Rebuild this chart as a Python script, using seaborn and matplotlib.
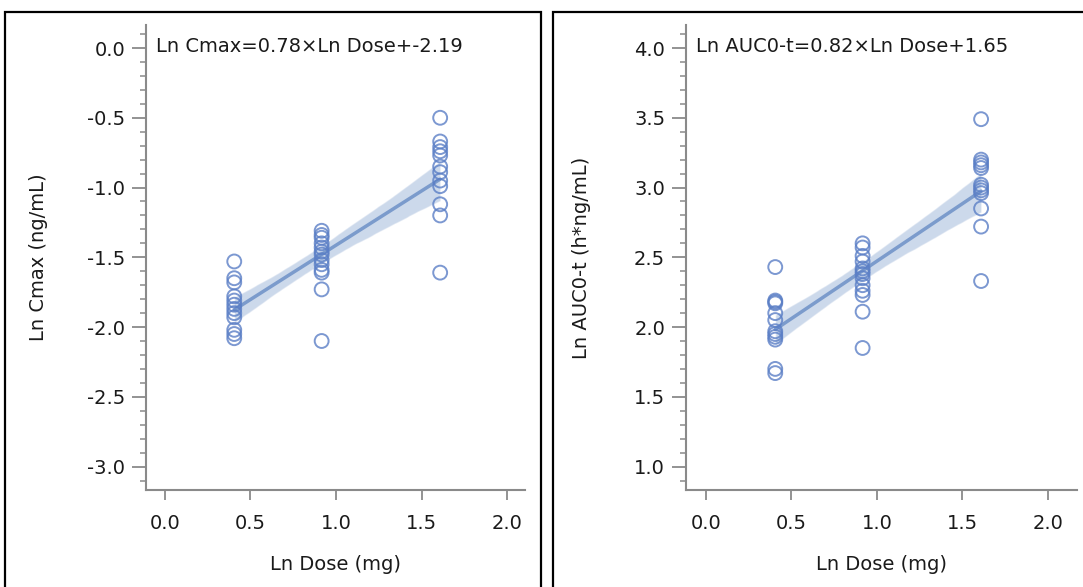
import numpy as np
import pandas as pd
import seaborn as sns
import matplotlib
matplotlib.use("Agg")
import matplotlib.pyplot as plt
from matplotlib.patches import Rectangle
from matplotlib.ticker import AutoMinorLocator
from matplotlib.path import Path

# ---------------- data ----------------
dose_levels = [0.405, 0.916, 1.609]   # ln(1.5), ln(2.5), ln(5) mg

cmax_low = [-1.53, -1.65, -1.68, -1.78, -1.81, -1.84, -1.87, -1.90, -1.93, -2.02, -2.05, -2.08]
cmax_mid = [-1.31, -1.34, -1.36, -1.40, -1.43, -1.46, -1.48, -1.52, -1.55, -1.59, -1.61, -1.73, -2.10]
cmax_high = [-0.50, -0.67, -0.71, -0.74, -0.77, -0.85, -0.89, -0.95, -0.99, -1.12, -1.20, -1.61]

auc_low = [2.43, 2.19, 2.18, 2.17, 2.10, 2.05, 1.97, 1.95, 1.93, 1.91, 1.70, 1.67]
auc_mid = [2.60, 2.57, 2.51, 2.47, 2.42, 2.40, 2.38, 2.35, 2.30, 2.26, 2.23, 2.11, 1.85]
auc_high = [3.49, 3.20, 3.18, 3.16, 3.14, 3.02, 3.00, 2.98, 2.96, 2.85, 2.72, 2.33]

eq_cmax = "Ln Cmax=0.78×Ln Dose+-2.19"
eq_auc = "Ln AUC0-t=0.82×Ln Dose+1.65"

cmax_ticks = [0.0, -0.5, -1.0, -1.5, -2.0, -2.5, -3.0]
auc_ticks = [4.0, 3.5, 3.0, 2.5, 2.0, 1.5, 1.0]
x_ticks = [0.0, 0.5, 1.0, 1.5, 2.0]


def build(low, mid, high):
    x = [dose_levels[0]] * len(low) + [dose_levels[1]] * len(mid) + [dose_levels[2]] * len(high)
    y = list(low) + list(mid) + list(high)
    return pd.DataFrame({"x": x, "y": y})


df_cmax = build(cmax_low, cmax_mid, cmax_high)
df_auc = build(auc_low, auc_mid, auc_high)

# ---------------- style ----------------
sns.set_theme(style="white")
plt.rcParams["font.family"] = ["DejaVu Sans"]

W, H = 1083, 587
fig = plt.figure(figsize=(W / 100, H / 100), dpi=100)


def ax_at(x0, x1, y0, y1):
    return fig.add_axes([x0 / W, 1 - y1 / H, (x1 - x0) / W, (y1 - y0) / H])


# elliptical open marker (slightly wider than tall, like the reference)
t = np.linspace(0, 2 * np.pi, 60)
ell = Path(np.column_stack([0.5 * np.cos(t), 0.4 * np.sin(t)]))

PT_COLOR = "#5b7fc6"
LINE_COLOR = "#7b9bcc"
SPINE = "#8a8a8a"
TXT = "#1a1a1a"
FS = 14


def panel(ax, df, ylab, eq, yticks, xlim, ylim):
    sns.regplot(data=df, x="x", y="y", ax=ax, ci=95, n_boot=1000, seed=1,
                truncate=True,
                scatter_kws=dict(marker=ell, s=100, facecolors="none",
                                 edgecolors=PT_COLOR, linewidths=1.4, zorder=3),
                line_kws=dict(color=LINE_COLOR, lw=2.5, zorder=2),
                color=LINE_COLOR)
    for coll in ax.collections:
        if coll.__class__.__name__ in ("PolyCollection", "FillBetweenPolyCollection"):
            coll.set_alpha(0.38)
            coll.set_zorder(1)
    ax.set_xlim(*xlim)
    ax.set_ylim(*ylim)
    ax.set_xticks(x_ticks)
    ax.set_xticklabels([f"{v:.1f}" for v in x_ticks])
    ax.set_yticks(yticks)
    ax.set_yticklabels([f"{v:.1f}" for v in yticks])
    ax.yaxis.set_minor_locator(AutoMinorLocator(5))
    for side in ("top", "right"):
        ax.spines[side].set_visible(False)
    for side in ("left", "bottom"):
        ax.spines[side].set_color(SPINE)
        ax.spines[side].set_linewidth(1.5)
    ax.tick_params(axis="y", which="major", direction="out", length=10, width=1.3,
                   color=SPINE, labelsize=FS, labelcolor=TXT, pad=5, left=True)
    ax.tick_params(axis="y", which="minor", direction="out", length=4.5, width=1.1,
                   color=SPINE, left=True)
    ax.tick_params(axis="x", which="major", direction="out", length=7, width=1.3,
                   color=SPINE, labelsize=FS, labelcolor=TXT, pad=10, bottom=True)
    ax.set_xlabel("Ln Dose (mg)", fontsize=FS, color=TXT)
    ax.set_ylabel(ylab, fontsize=FS, color=TXT)
    ax.xaxis.set_label_coords(0.5, -0.14)
    ax.text(0.026, 0.953, eq, transform=ax.transAxes, fontsize=FS, color=TXT,
            ha="left", va="center")
    ax.patch.set_alpha(0)


ax1 = ax_at(146, 525, 25, 490)
panel(ax1, df_cmax, "Ln Cmax (ng/mL)", eq_cmax, cmax_ticks,
      (-0.111, 2.105), (-3.168, 0.165))
ax1.yaxis.set_label_coords(-0.259, 0.5)

ax2 = ax_at(686, 1077, 25, 490)
panel(ax2, df_auc, "Ln AUC0-t (h*ng/mL)", eq_auc, auc_ticks,
      (-0.117, 2.17), (0.832, 4.165))
ax2.yaxis.set_label_coords(-0.243, 0.5)

# panel frames
for x0, x1 in ((5, 541), (553, 1090)):
    fig.add_artist(Rectangle((x0 / W, 1 - 600 / H), (x1 - x0) / W, (600 - 12) / H,
                             transform=fig.transFigure, fill=False,
                             edgecolor="black", linewidth=1.6, clip_on=False))

fig.savefig("out.png", dpi=100)
